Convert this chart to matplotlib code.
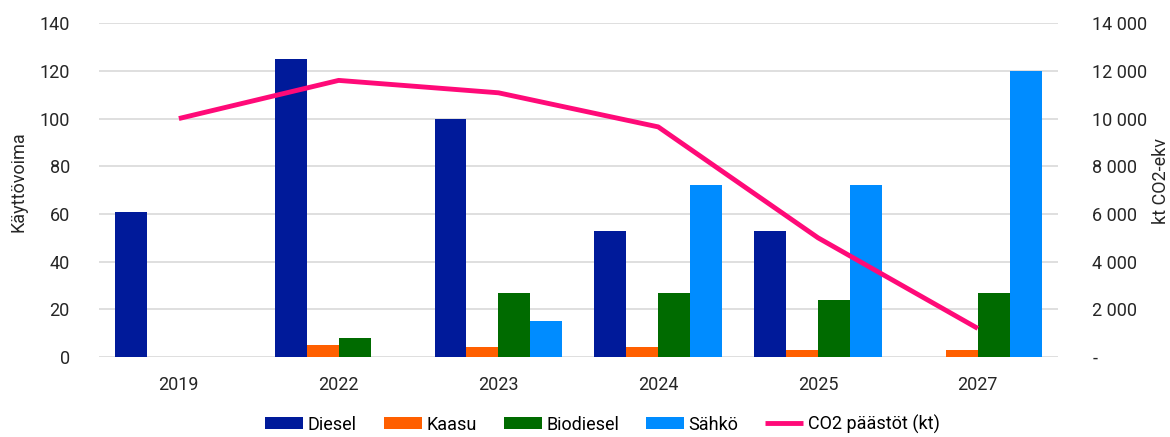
import numpy as np
import matplotlib.pyplot as plt
from matplotlib.ticker import FuncFormatter

plt.rcParams["font.family"] = ["Roboto", "DejaVu Sans"]

years = ["2019", "2022", "2023", "2024", "2025", "2027"]
diesel = [61, 125, 100, 53, 53, 0]
kaasu = [0, 5, 4, 4, 3, 3]
biodiesel = [0, 8, 27, 27, 24, 27]
sahko = [0, 0, 15, 72, 72, 120]
co2 = [10000, 11600, 11080, 9650, 5000, 1200]

series = [
    ("Diesel", diesel, "#001a9a"),
    ("Kaasu", kaasu, "#ff5f00"),
    ("Biodiesel", biodiesel, "#006b00"),
    ("Sähkö", sahko, "#008cff"),
]

FS = 13
TXT = "#262626"

fig = plt.figure(figsize=(11.7, 4.37), dpi=100)
ax = fig.add_axes([0.0846, 0.183, 0.8194, 0.764])
ax2 = ax.twinx()

x = np.arange(len(years))
w = 0.2
handles = []
for i, (name, vals, col) in enumerate(series):
    b = ax.bar(x + (i - 1.5) * w, vals, width=w, color=col, label=name, zorder=3)
    handles.append(b)

(ln,) = ax2.plot(x, co2, color="#ff0a78", lw=3.5, label="CO2 päästöt (kt)",
                 solid_capstyle="butt", zorder=4)
handles.append(ln)

ax.set_xlim(-0.5, len(years) - 0.5)
ax.set_ylim(0, 140)
ax.set_yticks(range(0, 141, 20))
ax2.set_ylim(0, 14000)
ax2.set_yticks(range(0, 14001, 2000))
ax2.yaxis.set_major_formatter(
    FuncFormatter(lambda v, p: "-" if v == 0 else f"{int(v):,}".replace(",", " "))
)

ax.set_xticks(x)
ax.set_xticklabels(years)
ax.grid(axis="y", color="#d9d9d9", lw=1.2, zorder=0)
for a in (ax, ax2):
    for s in a.spines.values():
        s.set_visible(False)
    a.tick_params(length=0, labelsize=FS, colors=TXT)
ax.tick_params(axis="x", pad=14)
ax.tick_params(axis="y", pad=21)
ax2.tick_params(axis="y", pad=25)

# axis titles
fig.text(0.016, 0.585, "Käyttövoima", rotation=90, ha="center", va="center",
         fontsize=FS, color=TXT)
fig.text(0.992, 0.585, "kt CO2-ekv", rotation=90, ha="center", va="center",
         fontsize=FS, color=TXT)

fig.legend(handles=handles, labels=[h.get_label() for h in handles],
           loc="lower center", bbox_to_anchor=(0.515, -0.03), ncol=5,
           frameon=False, fontsize=FS, handlelength=2.1, handleheight=0.65,
           columnspacing=1.5, handletextpad=0.25)

fig.savefig("out.png", dpi=100)
